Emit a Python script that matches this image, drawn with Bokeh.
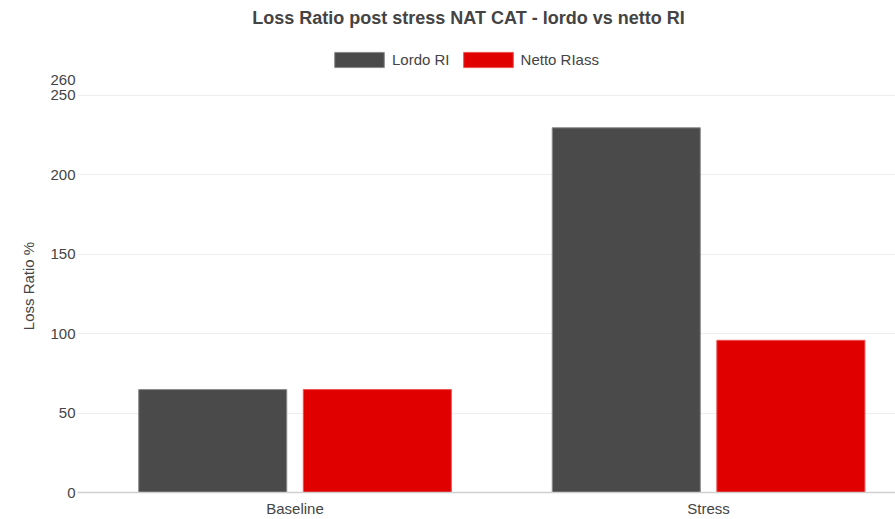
from bokeh.plotting import figure
from bokeh.layouts import column
from bokeh.models import (ColumnDataSource, Range1d, FixedTicker, Legend, LegendItem, Label)
from bokeh.transform import dodge
from bokeh.embed import file_html
from bokeh.resources import INLINE

# Loss ratios (%) per scenario
categories = ["Baseline", "Stress"]
lordo_ri = [64.8, 229.6]
netto_riass = [64.8, 95.8]
y_ticks = [0, 50, 100, 150, 200, 250, 260]
series_names = ["Lordo RI", "Netto RIass"]
series_fields = ["lordo", "netto"]
series_colors = ["#4a4a4a", "#e00000"]
series_edges = ["#8a8a8a", "#f05050"]
series_offsets = [-0.199, 0.199]

FONT = "Liberation Sans"
TEXT = "#444444"
W = 895
HEADER_H = 69
MAIN_H = 450
FRAME_LEFT = 77

source = ColumnDataSource(dict(
    pos=list(range(len(categories))),
    lordo=lordo_ri,
    netto=netto_riass,
))

# ---------------------------------------------------------------- header
# (its frame is aligned with the chart frame below, so x runs in page pixels)
header = figure(
    width=W, height=HEADER_H,
    x_range=Range1d(FRAME_LEFT, W), y_range=Range1d(0, HEADER_H),
    output_backend="svg", toolbar_location=None, title=None,
    min_border=0, outline_line_color=None,
)
header.axis.visible = False
header.grid.visible = False

header.add_layout(Label(
    x=468, y=HEADER_H - 17, text="Loss Ratio post stress NAT CAT - lordo vs netto RI",
    text_font=FONT, text_font_size="18px", text_font_style="bold",
    text_color=TEXT, text_align="center", text_baseline="middle",
))

# hidden copies of the bar series that provide the legend swatches
swatches = [
    header.vbar(x="pos", top=f, width=0.358, source=source, visible=False,
                fill_color=c, line_color=e, line_width=1)
    for f, c, e in zip(series_fields, series_colors, series_edges)
]
legend = Legend(
    items=[LegendItem(label=n, renderers=[r]) for n, r in zip(series_names, swatches)],
    orientation="horizontal", location=(251, 0),
    glyph_width=62, glyph_height=19, label_height=16, label_standoff=2, spacing=7,
    padding=0, margin=0, border_line_color=None, background_fill_alpha=0,
    label_text_font=FONT, label_text_font_size="15px", label_text_color=TEXT,
)
header.add_layout(legend, "center")

# ---------------------------------------------------------------- bars
p = figure(
    width=W, height=MAIN_H,
    x_range=Range1d(-0.526, 1.452), y_range=Range1d(0, 260),
    output_backend="svg", toolbar_location=None, title=None,
    min_border_left=FRAME_LEFT, min_border_right=0, min_border_top=10, min_border_bottom=27,
    outline_line_color=None, background_fill_color="white",
)

for f, c, e, off in zip(series_fields, series_colors, series_edges, series_offsets):
    p.vbar(x=dodge("pos", off), top=f, width=0.358, source=source,
           fill_color=c, line_color=e, line_width=1)

p.yaxis.ticker = FixedTicker(ticks=y_ticks)
p.yaxis.axis_line_color = None
p.yaxis.major_tick_line_color = None
p.yaxis.major_tick_out = 0
p.yaxis.minor_tick_line_color = None
p.yaxis.minor_tick_out = 0
p.yaxis.major_label_standoff = 2
p.yaxis.major_label_text_font = FONT
p.yaxis.major_label_text_font_size = "15px"
p.yaxis.major_label_text_color = TEXT
p.yaxis.axis_label = "Loss Ratio %"
p.yaxis.axis_label_text_font = FONT
p.yaxis.axis_label_text_font_size = "15px"
p.yaxis.axis_label_text_font_style = "normal"
p.yaxis.axis_label_text_color = TEXT
p.yaxis.axis_label_standoff = 10

p.xaxis.ticker = FixedTicker(ticks=list(range(len(categories))))
p.xaxis.major_label_overrides = {i: c for i, c in enumerate(categories)}
p.xaxis.axis_line_color = "#d0d0d0"
p.xaxis.axis_line_width = 1.5
p.xaxis.major_tick_line_color = None
p.xaxis.major_tick_out = 0
p.xaxis.minor_tick_line_color = None
p.xaxis.minor_tick_out = 0
p.xaxis.major_label_standoff = 7
p.xaxis.major_label_text_font = FONT
p.xaxis.major_label_text_font_size = "15px"
p.xaxis.major_label_text_color = TEXT

p.xgrid.grid_line_color = None
p.ygrid.grid_line_color = "#eeeeee"
p.ygrid.grid_line_width = 1

layout = column(header, p, spacing=0)
open("out.html", "w").write(file_html(layout, INLINE))
